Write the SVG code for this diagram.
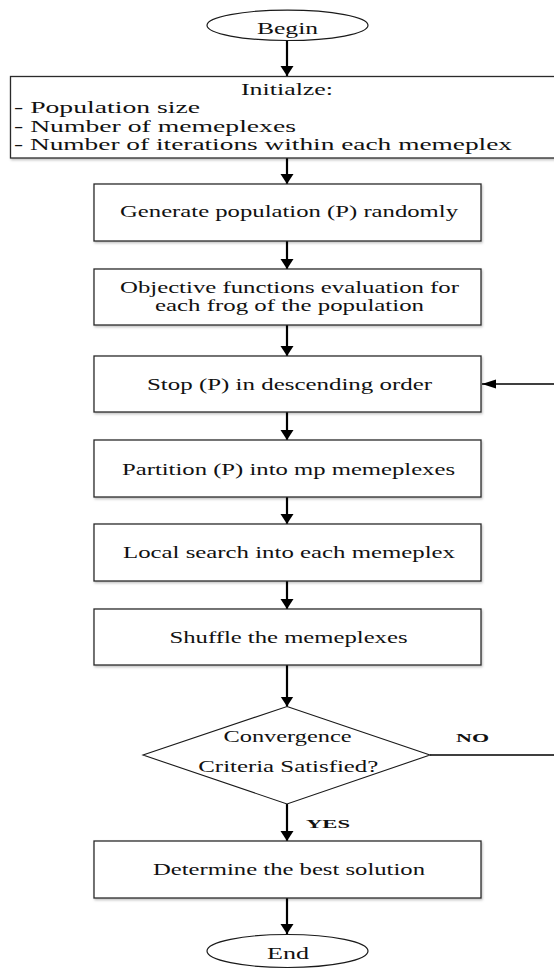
<svg xmlns="http://www.w3.org/2000/svg" width="554" height="969" viewBox="0 0 554 969">
<style>
.box{fill:#fff;stroke:#2a2a2a;stroke-width:1.3;filter:url(#sh)}
.term{fill:#fff;stroke:#1a1a1a;stroke-width:1.2}
.dec{fill:#fff;stroke:#1a1a1a;stroke-width:1.1}
.t{font-family:"Liberation Serif","Times New Roman",serif;font-size:16px;fill:#111}
.m{text-anchor:middle}
.b{font-weight:bold;font-size:13px}
.down{stroke:#000;stroke-width:2.2;fill:none;marker-end:url(#ah)}
.fb{stroke:#000;stroke-width:1.3;fill:none}
</style>
<defs>
<filter id="sh" x="-5%" y="-10%" width="110%" height="130%">
<feDropShadow dx="1" dy="1.5" stdDeviation="1" flood-color="#000" flood-opacity="0.25"/>
</filter>
<marker id="ah" markerUnits="userSpaceOnUse" markerWidth="12" markerHeight="14" refX="10" refY="6.5" orient="auto">
<path d="M0,0 L10,6.5 L0,13 z" fill="#000"/>
</marker>
<marker id="ah2" markerUnits="userSpaceOnUse" markerWidth="16" markerHeight="10" refX="14" refY="4.5" orient="auto">
<path d="M0,0 L14,4.5 L0,9 z" fill="#000"/>
</marker>
</defs>

<g id="connectors">
<line class="down" x1="287" y1="40.5" x2="287" y2="76"/>
<line class="down" x1="287" y1="158" x2="287" y2="184"/>
<line class="down" x1="287" y1="241" x2="287" y2="269"/>
<line class="down" x1="287" y1="325" x2="287" y2="356"/>
<line class="down" x1="287" y1="412" x2="287" y2="440"/>
<line class="down" x1="287" y1="497" x2="287" y2="524"/>
<line class="down" x1="287" y1="581" x2="287" y2="609"/>
<line class="down" x1="287" y1="665" x2="287" y2="706.5"/>
<line class="down" x1="287" y1="804" x2="287" y2="841"/>
<line class="down" x1="287" y1="898" x2="287" y2="934"/>
<polyline class="fb" points="430,755 557,755 557,384 482,384" marker-end="url(#ah2)"/>
<text class="t b" x="472.5" y="742" text-anchor="middle" textLength="33" lengthAdjust="spacingAndGlyphs">NO</text>
<text class="t b" x="328" y="828" text-anchor="middle" textLength="44" lengthAdjust="spacingAndGlyphs">YES</text>
</g>

<g id="begin">
<ellipse class="term" cx="287.5" cy="25.3" rx="80.5" ry="15.2"/>
<text class="t m" x="287.5" y="34" textLength="61" lengthAdjust="spacingAndGlyphs">Begin</text>
</g>

<g id="initialize">
<rect class="box" x="10.5" y="76.5" width="550" height="81.5"/>
<text class="t m" x="287" y="95" textLength="92" lengthAdjust="spacingAndGlyphs">Initialze:</text>
<text class="t" x="14" y="113" textLength="186" lengthAdjust="spacingAndGlyphs">- Population size</text>
<text class="t" x="14" y="131.5" textLength="282" lengthAdjust="spacingAndGlyphs">- Number of memeplexes</text>
<text class="t" x="14" y="150" textLength="498" lengthAdjust="spacingAndGlyphs">- Number of iterations within each memeplex</text>
</g>

<g id="generate">
<rect class="box" x="94" y="184" width="387" height="57"/>
<text class="t m" x="289" y="217" textLength="338" lengthAdjust="spacingAndGlyphs">Generate population (P) randomly</text>
</g>

<g id="evaluate">
<rect class="box" x="94" y="269" width="387" height="56"/>
<text class="t m" x="289.5" y="293" textLength="339" lengthAdjust="spacingAndGlyphs">Objective functions evaluation for</text>
<text class="t m" x="289.5" y="310.5" textLength="269" lengthAdjust="spacingAndGlyphs">each frog of the population</text>
</g>

<g id="sort">
<rect class="box" x="94" y="356" width="387" height="56"/>
<text class="t m" x="289.5" y="389.5" textLength="285" lengthAdjust="spacingAndGlyphs">Stop (P) in descending order</text>
</g>

<g id="partition">
<rect class="box" x="94" y="440" width="387" height="57"/>
<text class="t m" x="288.5" y="474.5" textLength="333" lengthAdjust="spacingAndGlyphs">Partition (P) into mp memeplexes</text>
</g>

<g id="local">
<rect class="box" x="94" y="524" width="387" height="57"/>
<text class="t m" x="289" y="557.5" textLength="332" lengthAdjust="spacingAndGlyphs">Local search into each memeplex</text>
</g>

<g id="shuffle">
<rect class="box" x="94" y="609" width="387" height="56"/>
<text class="t m" x="288.5" y="642.5" textLength="238" lengthAdjust="spacingAndGlyphs">Shuffle the memeplexes</text>
</g>

<g id="convergence">
<polygon class="dec" points="287,706.5 430,755 287,804 143,755"/>
<text class="t m" x="287.5" y="741.7" textLength="128" lengthAdjust="spacingAndGlyphs">Convergence</text>
<text class="t m" x="288.3" y="771.7" textLength="180" lengthAdjust="spacingAndGlyphs">Criteria Satisfied?</text>
</g>

<g id="best">
<rect class="box" x="94" y="841" width="387" height="57"/>
<text class="t m" x="289" y="875" textLength="272" lengthAdjust="spacingAndGlyphs">Determine the best solution</text>
</g>

<g id="end">
<ellipse class="term" cx="287.5" cy="951" rx="80.5" ry="16.5"/>
<text class="t m" x="288" y="959" textLength="42" lengthAdjust="spacingAndGlyphs">End</text>
</g>
</svg>
